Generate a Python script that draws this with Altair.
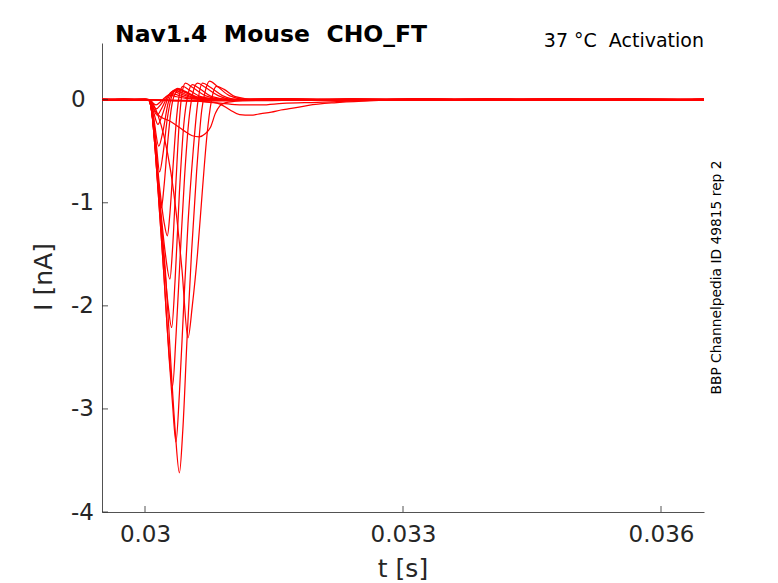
import altair as alt
import pandas as pd

STEP_ONSET_S = 0.030          # voltage step onset (s); trace times below are ms after it
X_DOMAIN = [0.0295, 0.0365]
Y_DOMAIN = [-4.0, 0.55]
X_TICKS = [0.03, 0.033, 0.036]
Y_TICKS = [-4, -3, -2, -1, 0]

NB = "\u00a0"  # keeps the double spaces of the original texts visible in SVG
TITLE = f"Nav1.4{NB} Mouse{NB} CHO_FT"
SUBTITLE = f"37 °C{NB} Activation"
SIDE_NOTE = "BBP Channelpedia ID 49815 rep 2"
X_LABEL = "t [s]"
Y_LABEL = "I [nA]"

# ---- current traces: (ms after step onset, current in nA) ----
F1 = [(-0.5, 0.004), (-0.25, -0.003), (0.0, 0.002), (0.2, -0.006), (0.6, -0.01), (1.0, -0.012),
      (1.6, -0.006), (2.4, 0.004), (3.2, -0.005), (4.0, 0.006), (4.8, -0.004), (5.6, 0.005), (6.5, -0.002)]
F2 = [(-0.5, -0.003), (-0.25, 0.005), (0.0, -0.002), (0.3, -0.004), (0.8, -0.008), (1.2, 0.004),
      (1.6, 0.007), (2.4, -0.006), (3.2, 0.005), (4.0, -0.004), (4.8, 0.007), (5.6, -0.005), (6.5, 0.003)]
S1 = [(-0.5, 0.002), (-0.25, 0.004), (0.0, -0.003), (0.05, 0.0), (0.09, -0.03), (0.13, -0.05),
      (0.18, -0.02), (0.23, 0.02), (0.28, 0.045), (0.36, 0.03), (0.5, 0.01), (0.75, 0.0),
      (1.6, 0.005), (2.4, -0.004), (3.2, 0.006), (4.0, -0.003), (4.8, 0.004), (5.6, -0.006), (6.5, 0.002)]
S2 = [(-0.5, -0.004), (-0.25, 0.002), (0.0, 0.003), (0.05, 0.0), (0.09, -0.05), (0.13, -0.09),
      (0.18, -0.05), (0.24, 0.02), (0.30, 0.06), (0.38, 0.045), (0.52, 0.015), (0.8, 0.0),
      (1.6, -0.005), (2.4, 0.006), (3.2, -0.003), (4.0, 0.005), (4.8, -0.006), (5.6, 0.004), (6.5, -0.003)]
S3 = [(-0.5, 0.005), (-0.25, -0.002), (0.0, 0.001), (0.05, 0.0), (0.09, -0.07), (0.14, -0.15),
      (0.19, -0.09), (0.25, 0.01), (0.32, 0.08), (0.40, 0.06), (0.55, 0.02), (0.85, 0.0),
      (1.6, 0.008), (2.4, -0.002), (3.2, 0.004), (4.0, -0.007), (4.8, 0.003), (5.6, 0.006), (6.5, -0.004)]
S4 = [(-0.5, 0.001), (-0.25, 0.003), (0.0, -0.004), (0.05, 0.0), (0.09, -0.09), (0.15, -0.24),
      (0.20, -0.15), (0.26, 0.0), (0.34, 0.09), (0.42, 0.07), (0.58, 0.02), (0.9, 0.0),
      (1.6, -0.003), (2.4, 0.007), (3.2, -0.006), (4.0, 0.002), (4.8, 0.005), (5.6, -0.004), (6.5, 0.004)]
S5 = [(-0.5, -0.002), (-0.25, -0.004), (0.0, 0.003), (0.05, 0.0), (0.09, -0.12), (0.16, -0.45),
      (0.21, -0.3), (0.27, -0.03), (0.36, 0.10), (0.45, 0.075), (0.6, 0.025), (0.9, 0.0),
      (1.6, 0.004), (2.4, -0.007), (3.2, 0.003), (4.0, 0.006), (4.8, -0.005), (5.6, 0.002), (6.5, 0.005)]
S6 = [(-0.5, 0.003), (-0.25, 0.001), (0.0, 0.004), (0.05, 0.0), (0.09, -0.13), (0.13, -0.42),
      (0.17, -0.7), (0.21, -0.52), (0.26, -0.18), (0.31, 0.03), (0.38, 0.11), (0.47, 0.08),
      (0.62, 0.025), (0.95, 0.0),
      (1.6, -0.006), (2.4, 0.003), (3.2, 0.007), (4.0, -0.005), (4.8, 0.002), (5.6, -0.003), (6.5, 0.001)]
D1 = [(-0.5, -0.005), (-0.25, 0.002), (0.0, 0.0), (0.04, 0.0), (0.08, -0.12), (0.12, -0.45),
      (0.16, -0.85), (0.19, -1.05), (0.22, -0.85), (0.26, -0.45), (0.30, -0.12), (0.34, 0.04),
      (0.40, 0.10), (0.48, 0.07), (0.6, 0.02), (0.8, 0.0),
      (1.6, 0.006), (2.4, -0.005), (3.2, 0.002), (4.0, 0.007), (4.8, -0.006), (5.6, 0.005), (6.5, -0.001)]
D2 = [(-0.5, 0.002), (-0.25, -0.005), (0.0, 0.002), (0.04, 0.0), (0.08, -0.12), (0.12, -0.42),
      (0.17, -0.85), (0.22, -1.18), (0.26, -1.32), (0.29, -1.1), (0.33, -0.6), (0.37, -0.15),
      (0.40, 0.05), (0.44, 0.13), (0.52, 0.09), (0.65, 0.03), (0.9, 0.0),
      (1.6, -0.004), (2.4, 0.005), (3.2, -0.007), (4.0, 0.003), (4.8, 0.006), (5.6, -0.002), (6.5, 0.004)]
D3 = [(-0.5, 0.004), (-0.25, 0.004), (0.0, -0.001), (0.04, 0.0), (0.08, -0.12), (0.12, -0.45),
      (0.17, -0.95), (0.23, -1.45), (0.29, -1.74), (0.32, -1.45), (0.36, -0.8), (0.40, -0.2),
      (0.43, 0.06), (0.47, 0.16), (0.55, 0.12), (0.7, 0.04), (0.95, 0.0),
      (1.6, 0.003), (2.4, -0.006), (3.2, 0.005), (4.0, -0.002), (4.8, 0.007), (5.6, 0.004), (6.5, -0.005)]
D4 = [(-0.5, -0.001), (-0.25, -0.003), (0.0, 0.005), (0.04, 0.0), (0.08, -0.13), (0.12, -0.5),
      (0.17, -1.05), (0.22, -1.55), (0.27, -2.0), (0.31, -2.21), (0.35, -1.75), (0.40, -0.9),
      (0.45, -0.25), (0.50, 0.05), (0.55, 0.145), (0.63, 0.11), (0.78, 0.03), (1.0, 0.0),
      (1.6, -0.007), (2.4, 0.004), (3.2, 0.006), (4.0, -0.006), (4.8, 0.003), (5.6, -0.005), (6.5, 0.006)]
D5 = [(-0.5, 0.003), (-0.25, 0.0), (0.0, -0.004), (0.04, 0.0), (0.08, -0.13), (0.12, -0.5),
      (0.17, -1.1), (0.22, -1.7), (0.27, -2.35), (0.32, -2.78), (0.36, -2.3), (0.41, -1.5),
      (0.46, -0.75), (0.51, -0.2), (0.55, 0.04), (0.61, 0.16), (0.70, 0.12), (0.85, 0.04), (1.05, 0.0),
      (1.6, 0.005), (2.4, 0.002), (3.2, -0.004), (4.0, 0.005), (4.8, -0.003), (5.6, 0.007), (6.5, -0.002)]
D6 = [(-0.5, -0.004), (-0.25, 0.005), (0.0, 0.001), (0.04, 0.0), (0.08, -0.13), (0.12, -0.5),
      (0.17, -1.1), (0.22, -1.7), (0.28, -2.5), (0.32, -2.95), (0.36, -3.32), (0.40, -2.85),
      (0.45, -2.0), (0.50, -1.2), (0.56, -0.5), (0.61, -0.05), (0.67, 0.16), (0.76, 0.12),
      (0.9, 0.04), (1.1, 0.0),
      (1.6, -0.002), (2.4, -0.006), (3.2, 0.004), (4.0, 0.001), (4.8, -0.007), (5.6, 0.003), (6.5, 0.005)]
D7 = [(-0.5, 0.0), (-0.25, -0.002), (0.0, 0.003), (0.04, 0.0), (0.08, -0.12), (0.12, -0.45),
      (0.17, -1.0), (0.24, -1.7), (0.30, -2.55), (0.35, -3.2), (0.40, -3.62), (0.44, -3.2),
      (0.49, -2.3), (0.54, -1.5), (0.60, -0.7), (0.66, -0.1), (0.70, 0.08), (0.75, 0.18),
      (0.84, 0.13), (0.98, 0.04), (1.2, 0.0),
      (1.6, 0.007), (2.4, -0.003), (3.2, -0.005), (4.0, 0.004), (4.8, 0.006), (5.6, -0.007), (6.5, 0.002)]
D8 = [(-0.5, 0.005), (-0.25, 0.001), (0.0, -0.002), (0.05, 0.0), (0.10, -0.05), (0.15, -0.15),
      (0.22, -0.35), (0.30, -0.7), (0.37, -1.15), (0.43, -1.65), (0.50, -2.31), (0.55, -2.0),
      (0.61, -1.5), (0.67, -0.85), (0.72, -0.35), (0.77, -0.02), (0.83, 0.13), (0.92, 0.1),
      (1.05, 0.03), (1.3, 0.0),
      (1.6, -0.005), (2.4, 0.006), (3.2, 0.002), (4.0, -0.004), (4.8, 0.005), (5.6, 0.001), (6.5, -0.004)]
L1 = [(-0.5, -0.002), (-0.25, 0.003), (0.0, 0.004), (0.03, 0.0), (0.07, -0.04), (0.12, -0.11),
      (0.17, -0.16), (0.21, -0.18), (0.27, -0.2), (0.35, -0.24), (0.45, -0.3), (0.55, -0.35),
      (0.63, -0.36), (0.70, -0.33), (0.76, -0.27), (0.82, -0.13), (0.87, -0.06), (0.93, -0.03),
      (1.05, -0.015), (1.3, 0.0),
      (1.6, 0.004), (2.4, -0.004), (3.2, 0.007), (4.0, -0.006), (4.8, 0.002), (5.6, 0.006), (6.5, -0.003)]
L2 = [(-0.5, 0.001), (-0.25, -0.004), (0.0, -0.001), (0.05, 0.0), (0.3, -0.01), (0.6, -0.015),
      (0.8, -0.025), (0.88, -0.045), (0.99, -0.1), (1.1, -0.145), (1.23, -0.15), (1.35, -0.135),
      (1.47, -0.12), (1.58, -0.1), (1.7, -0.085), (1.9, -0.055), (2.2, -0.03), (2.6, -0.012),
      (3.0, 0.0), (3.6, 0.005), (4.4, -0.004), (5.2, 0.006), (6.0, -0.005), (6.5, 0.003)]
L3 = [(-0.5, -0.003), (-0.25, 0.002), (0.0, 0.002), (0.05, 0.0), (0.4, -0.01), (0.7, -0.02),
      (0.9, -0.035), (1.1, -0.05), (1.35, -0.05), (1.6, -0.035), (2.0, -0.025), (2.5, -0.01),
      (3.0, 0.0), (3.6, -0.005), (4.4, 0.006), (5.2, -0.003), (6.0, 0.004), (6.5, -0.005)]

TRACES = {"F1": F1, "F2": F2, "S1": S1, "S2": S2, "S3": S3, "S4": S4, "S5": S5, "S6": S6,
          "D1": D1, "D2": D2, "D3": D3, "D4": D4, "D5": D5, "D6": D6, "D7": D7, "D8": D8,
          "L1": L1, "L2": L2, "L3": L3}

rows = []
for name, pts in TRACES.items():
    for ms, cur in pts:
        rows.append({"trace": name, "t": STEP_ONSET_S + ms / 1000.0, "i": cur})
df = pd.DataFrame(rows)

FONT = "DejaVu Sans"
AX = "#262626"
W, H = 602, 469

x_scale = alt.Scale(domain=X_DOMAIN, nice=False, zero=False)
y_scale = alt.Scale(domain=Y_DOMAIN, nice=False, zero=False)

x_axis = alt.Axis(values=X_TICKS, format=".3~f", title=None, grid=False, ticks=False, tickSize=0,
                  domainColor=AX, domainWidth=0.8, labelFont=FONT, labelFontSize=23,
                  labelColor=AX, labelPadding=11.5, labelBaseline="top", labelFlush=False)
y_axis = alt.Axis(values=Y_TICKS, labelExpr="'' + datum.value", title=None, grid=False,
                  ticks=False, tickSize=0, domainColor=AX, domainWidth=0.8, labelFont=FONT,
                  labelFontSize=23, labelColor=AX, labelAlign="left", labelPadding=31.5,
                  labelBaseline="middle", labelFlush=False)

lines = alt.Chart(df).mark_line(color="#ff0000", strokeWidth=1.25, interpolate="monotone",
                                clip=True).encode(
    x=alt.X("t:Q", scale=x_scale, axis=x_axis),
    y=alt.Y("i:Q", scale=y_scale, axis=y_axis),
    detail="trace:N",
)

xticks = alt.Chart(pd.DataFrame({"t": X_TICKS})).mark_rule(color=AX, strokeWidth=0.8).encode(
    x=alt.X("t:Q", scale=x_scale, axis=x_axis),
    y=alt.value(H), y2=alt.value(H - 6),
)
yticks = alt.Chart(pd.DataFrame({"i": Y_TICKS})).mark_rule(color=AX, strokeWidth=0.8).encode(
    y=alt.Y("i:Q", scale=y_scale, axis=y_axis),
    x=alt.value(0), x2=alt.value(6),
)


def label(text, **kw):
    return alt.Chart(pd.DataFrame({"s": [text]})).mark_text(font=FONT, **kw).encode(text="s:N")


title_t = label(TITLE, align="left", baseline="alphabetic", fontSize=23.5, fontWeight="bold",
                color="#000000").encode(x=alt.value(13), y=alt.value(-1))
sub_t = label(SUBTITLE, align="right", baseline="alphabetic", fontSize=19,
              color="#000000").encode(x=alt.value(W), y=alt.value(4))
side_t = label(SIDE_NOTE, align="center", baseline="middle", fontSize=13.8, angle=270,
               color="#000000").encode(x=alt.value(614.5), y=alt.value(234.5))
ylab_t = label(Y_LABEL, align="center", baseline="middle", fontSize=25, angle=270,
               color=AX).encode(x=alt.value(-58), y=alt.value(234))
xlab_t = label(X_LABEL, align="center", baseline="alphabetic", fontSize=25,
               color=AX).encode(x=alt.value(301), y=alt.value(534))

chart = alt.layer(lines, xticks, yticks, title_t, sub_t, side_t, ylab_t, xlab_t).properties(
    width=W, height=H,
    padding={"left": 94, "top": 35, "right": 60, "bottom": 75},
    autosize=alt.AutoSizeParams(type="none"),
).configure_view(stroke=None)

chart.save("out.html", embed_options={"renderer": "svg", "actions": False})
